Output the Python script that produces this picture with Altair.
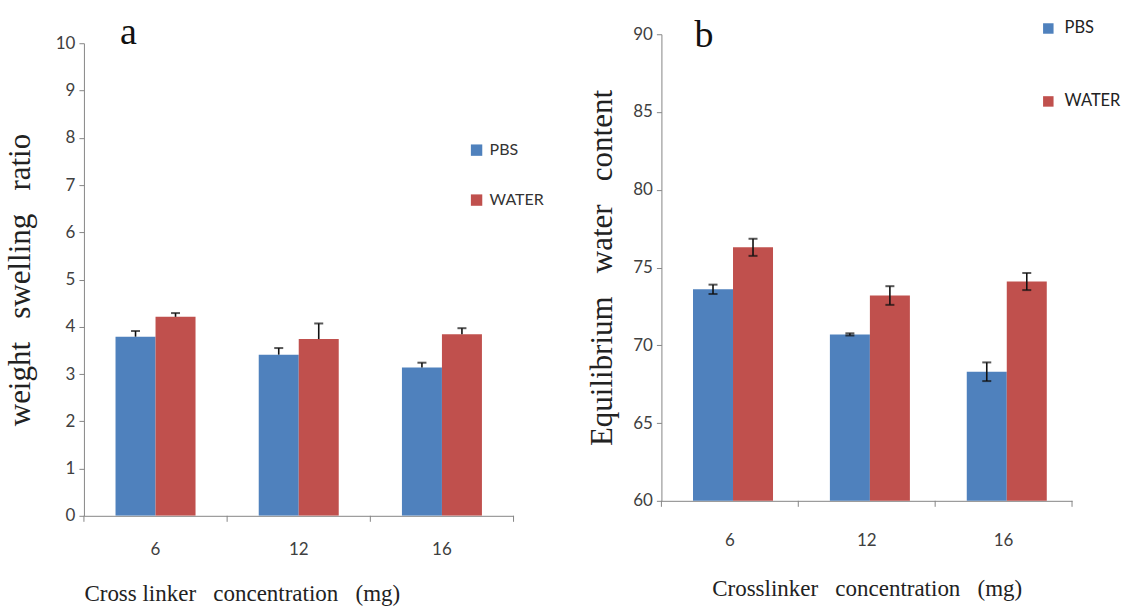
import altair as alt
import pandas as pd

# ---------------- data ----------------
conc = ["6", "12", "16"]
series = ["PBS", "WATER"]

a_pbs = [3.79, 3.41, 3.14]
a_pbs_err = [0.12, 0.14, 0.10]
a_water = [4.21, 3.74, 3.84]
a_water_err = [0.08, 0.33, 0.13]

b_pbs = [73.6, 70.7, 68.3]
b_pbs_err = [0.30, 0.07, 0.60]
b_water = [76.3, 73.2, 74.1]
b_water_err = [0.55, 0.60, 0.55]

a_ticks = [0, 1, 2, 3, 4, 5, 6, 7, 8, 9, 10]
b_ticks = [60, 65, 70, 75, 80, 85, 90]

colors = ["#4F81BD", "#C0504D"]
GRAY = "#868686"
SERIF = "Liberation Serif"
SANS = "Lato"
SP = "\u00a0\u00a0\u00a0"


def frame(pbs, pbs_err, water, water_err, two_sided):
    rows = []
    for i, c in enumerate(conc):
        for s, v, e in (("PBS", pbs[i], pbs_err[i]), ("WATER", water[i], water_err[i])):
            rows.append({"conc": c, "series": s, "value": v,
                         "hi": v + e, "lo": (v - e) if two_sided else v})
    return pd.DataFrame(rows)


def panel(df, ticks, width, height, ytitle, xtitle, band_pad, legend,
          xtitle_x, label_pad, title_pad, ytitle_x, letter, letter_x, letter_y, two_sided):
    xs = alt.X("conc:N", sort=conc,
               scale=alt.Scale(paddingInner=0, paddingOuter=0),
               axis=alt.Axis(title=xtitle, labelAngle=0, ticks=False,
                             domainColor=GRAY, labelPadding=label_pad,
                             titlePadding=title_pad, titleX=xtitle_x,
                             labelFont=SANS, labelFontSize=17, labelColor="#404040",
                             titleFont=SERIF, titleFontSize=23, titleFontWeight="normal",
                             titleColor="#222"))
    xo = alt.XOffset("series:N", sort=series,
                     scale=alt.Scale(paddingInner=0, paddingOuter=band_pad))
    ys = alt.Y("value:Q",
               scale=alt.Scale(domain=[ticks[0], ticks[-1]], nice=False, zero=False),
               axis=alt.Axis(values=ticks, title=ytitle, grid=False,
                             domainColor=GRAY, tickColor=GRAY, tickSize=5,
                             labelFont=SANS, labelFontSize=17, labelColor="#404040",
                             labelPadding=4, titleFont=SERIF, titleFontSize=31,
                             titleFontWeight="normal", titleColor="#222",
                             titleX=ytitle_x, titleBaseline="middle"))
    col = alt.Color("series:N", sort=series,
                    scale=alt.Scale(domain=series, range=colors), legend=legend)
    base = alt.Chart(df)
    bars = base.mark_bar(clip=True).encode(x=xs, xOffset=xo, y=ys, color=col)
    x2 = alt.X("conc:N", sort=conc)
    xo2 = alt.XOffset("series:N", sort=series)
    stems = base.mark_rule(color="#111", strokeWidth=1.6).encode(
        x=x2, xOffset=xo2, y="lo:Q", y2="hi:Q")
    caps_hi = base.mark_tick(color="#111", thickness=2, size=9).encode(
        x=x2, xOffset=xo2, y="hi:Q")
    layers = [bars, stems, caps_hi]
    if two_sided:
        layers.append(base.mark_tick(color="#111", thickness=2, size=9).encode(
            x=x2, xOffset=xo2, y="lo:Q"))
    bdf = pd.DataFrame({"conc": conc})
    layers.append(alt.Chart(bdf).mark_rule(color=GRAY, strokeWidth=1).encode(
        x=alt.X("conc:N", sort=conc, bandPosition=0),
        y=alt.value(height), y2=alt.value(height + 6)))
    layers.append(alt.Chart(pd.DataFrame({"conc": [conc[-1]]})).mark_rule(
        color=GRAY, strokeWidth=1).encode(
        x=alt.X("conc:N", sort=conc, bandPosition=1),
        y=alt.value(height), y2=alt.value(height + 6)))
    layers.append(alt.Chart(pd.DataFrame({"t": [letter]})).mark_text(
        font=SERIF, fontSize=38, align="left", baseline="alphabetic",
        color="#111").encode(x=alt.value(letter_x), y=alt.value(letter_y), text="t:N"))
    return alt.layer(*layers).properties(width=width, height=height)


da = frame(a_pbs, a_pbs_err, a_water, a_water_err, False)
db = frame(b_pbs, b_pbs_err, b_water, b_water_err, True)

WA, HA = 430, 473
WB, HB = 411, 467

leg_a = alt.Legend(title=None, orient="none", legendX=385, legendY=108,
                   symbolType="square", symbolSize=130, symbolStrokeWidth=0,
                   rowPadding=34, labelFont=SANS, labelFontSize=16,
                   labelColor="#333", labelOffset=5)
leg_b = alt.Legend(title=None, orient="none", legendX=379, legendY=-14,
                   symbolType="square", symbolSize=110, symbolStrokeWidth=0,
                   rowPadding=56, labelFont=SANS, labelFontSize=16.5,
                   labelColor="#222", labelOffset=8)

chart_a = panel(da, a_ticks, WA, HA, f"weight{SP}swelling{SP}ratio",
                f"Cross linker{SP}concentration{SP}(mg)", 0.79, leg_a, 158, 26, 25, -63,
                "a", 36, 1, False)
chart_b = panel(db, b_ticks, WB, HB, f"Equilibrium{SP}water{SP}content",
                f"Crosslinker{SP}concentration{SP}(mg)", 0.756, leg_b, WB / 2, 32, 29, -59,
                "b", 33, 13, True)

spacer = alt.Chart(pd.DataFrame({"t": [0]})).mark_point(opacity=0).encode(
    x=alt.value(0), y=alt.value(0)).properties(width=WA, height=9)

left = alt.vconcat(spacer, chart_a, spacing=0, bounds="flush")

chart = alt.hconcat(left, chart_b, spacing=41).resolve_scale(
    color="independent").properties(
    padding={"left": 5, "top": 14, "right": 0, "bottom": 0},
    background="white").configure_view(stroke=None)

chart.save("out.html", embed_options={"renderer": "svg", "actions": False})
